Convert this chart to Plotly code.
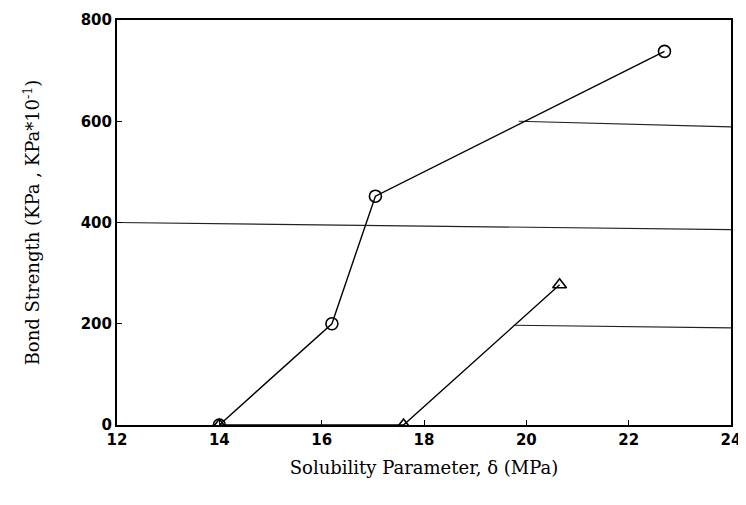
import plotly.graph_objects as go

# Data
circle_x = [14.0, 16.2, 17.05, 22.7]
circle_y = [0, 200, 452, 738]
triangle_x = [14.0, 17.6, 20.65]
triangle_y = [0, 0, 277]

# faint horizontal lines visible in the scan
hline_400_x = [12, 24]
hline_400_y = [400, 386]
hline_600_x = [19.85, 24]
hline_600_y = [600, 589]
hline_200_x = [19.75, 24]
hline_200_y = [197, 192]

x_ticks = [12, 14, 16, 18, 20, 22, 24]
y_ticks = [0, 200, 400, 600, 800]

fig = go.Figure()
for hx, hy in [(hline_400_x, hline_400_y), (hline_600_x, hline_600_y), (hline_200_x, hline_200_y)]:
    fig.add_trace(go.Scatter(x=hx, y=hy, mode="lines",
                             line=dict(color="#222", width=1.2), showlegend=False, hoverinfo="skip"))

fig.add_trace(go.Scatter(x=triangle_x, y=triangle_y, mode="lines+markers",
                         line=dict(color="black", width=1.4),
                         marker=dict(symbol="triangle-up-open", size=12, color="black",
                                     line=dict(width=1.6, color="black")),
                         showlegend=False))
fig.add_trace(go.Scatter(x=circle_x, y=circle_y, mode="lines+markers",
                         line=dict(color="black", width=1.4),
                         marker=dict(symbol="circle-open", size=12, color="black",
                                     line=dict(width=1.6, color="black")),
                         showlegend=False))

tick_font = dict(family="DejaVu Sans", size=15, color="black", weight="bold")
title_font = dict(family="DejaVu Serif", size=18, color="black")

fig.update_layout(
    width=738, height=497,
    margin=dict(l=109, r=15, t=12, b=80),
    paper_bgcolor="white", plot_bgcolor="white",
    font=dict(family="DejaVu Sans", color="black"),
    xaxis=dict(range=[12, 24], tickvals=x_ticks, ticks="inside", ticklen=5, tickwidth=1.2,
               tickcolor="black", showgrid=False, zeroline=False, automargin=False,
               showline=True, mirror=True, linecolor="black", linewidth=2,
               tickfont=tick_font,
               title=dict(text="Solubility Parameter, δ (MPa)", font=title_font, standoff=13)),
    yaxis=dict(range=[0, 800], tickvals=y_ticks, ticks="inside", ticklen=5, tickwidth=1.2,
               tickcolor="black", showgrid=False, zeroline=False, automargin=False,
               showline=True, mirror=True, linecolor="black", linewidth=2,
               tickfont=tick_font,
               title=dict(text="Bond Strength (KPa , KPa*10<sup>-1</sup>)", font=title_font, standoff=36)),
)

fig.write_html("out.html")
